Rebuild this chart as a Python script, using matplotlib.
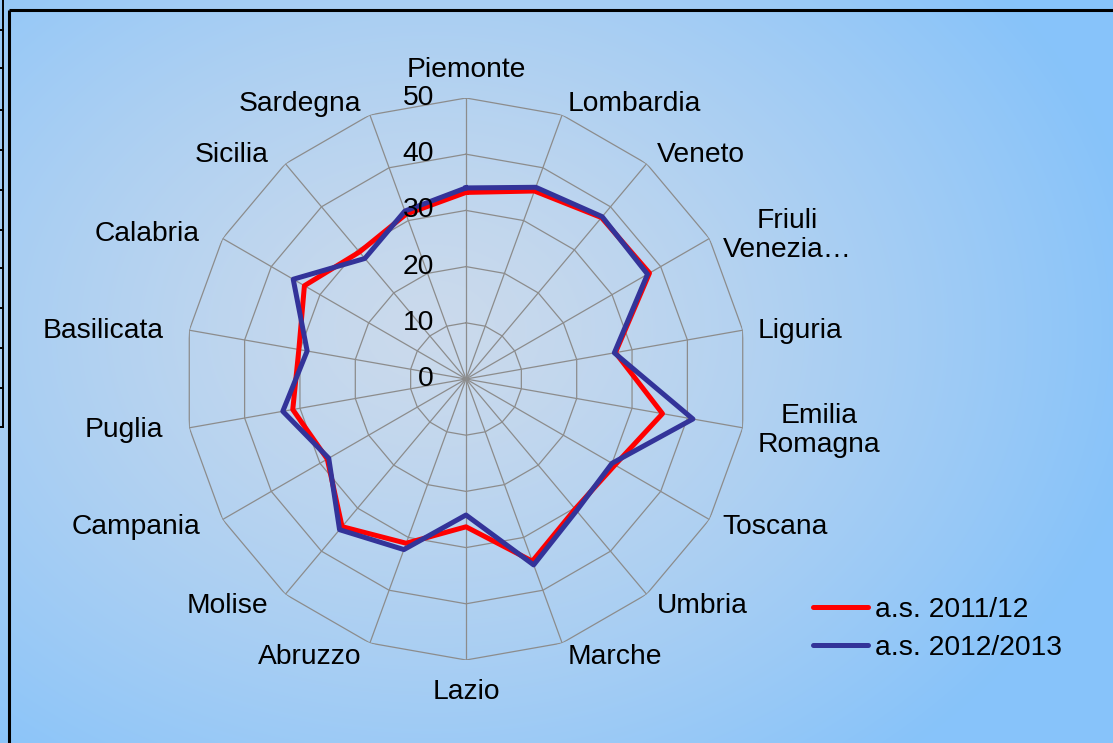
import matplotlib.pyplot as plt
import numpy as np
from matplotlib.lines import Line2D

# dati
regioni = ["Piemonte", "Lombardia", "Veneto", "Friuli\nVenezia…", "Liguria",
           "Emilia\nRomagna", "Toscana", "Umbria", "Marche", "Lazio",
           "Abruzzo", "Molise", "Campania", "Puglia", "Basilicata",
           "Calabria", "Sicilia", "Sardegna"]
as_2011 = [33.2, 35.6, 37.5, 37.7, 27.0, 35.5, 30.6, 30.2, 34.5, 26.3,
           31.1, 34.3, 28.5, 31.3, 30.2, 33.2, 29.5, 31.2]
as_2012 = [34.0, 36.3, 37.7, 37.3, 26.8, 41.0, 30.0, 30.6, 35.2, 24.2,
           32.3, 35.0, 28.2, 33.1, 28.7, 35.5, 28.0, 31.8]
livelli = [0, 10, 20, 30, 40, 50]
serie = ["a.s. 2011/12", "a.s. 2012/2013"]

W, H = 1113, 743
plt.rcParams['font.family'] = ['Liberation Sans', 'DejaVu Sans']
fs = 20.3

fig = plt.figure(figsize=(W / 100, H / 100), dpi=100)

# sfondo sfumato
bg = fig.add_axes([0, 0, 1, 1], zorder=-10)
yy, xx = np.mgrid[0:H, 0:W]
t = np.sqrt(((xx - 430) / 720.) ** 2 + ((yy - 330) / 560.) ** 2)
t = np.clip(t, 0, 1) ** 1.3
c0 = np.array([203, 218, 236]) / 255.
c1 = np.array([135, 195, 250]) / 255.
img = c0[None, None, :] * (1 - t[..., None]) + c1[None, None, :] * t[..., None]
bg.imshow(img, extent=[0, W, H, 0], aspect='auto')
bg.set_xlim(0, W)
bg.set_ylim(H, 0)
bg.axis('off')

# cornice
bg.plot([8.5, 8.5], [9.5, H], color='black', lw=2.2, solid_capstyle='butt')
bg.plot([8.5, W], [9.5, 9.5], color='black', lw=2.2, solid_capstyle='butt')
bg.plot([3, 3], [0, 427], color='black', lw=1.4)
for yl in [30, 68, 110, 150, 190, 230, 268, 308, 348, 388, 427]:
    bg.plot([0, 3], [yl, yl], color='black', lw=1.4)

# radar
cx, cy, R = 466, 379, 281
ax = fig.add_axes([(cx - R) / W, (H - cy - R) / H, 2 * R / W, 2 * R / H],
                  projection='polar')
ax.set_theta_zero_location('N')
ax.set_theta_direction(-1)
ax.set_ylim(0, 50)
ax.patch.set_alpha(0)
ax.axis('off')

n = len(regioni)
ang = np.arange(n) * 2 * np.pi / n
ang_c = np.append(ang, ang[0])

for lv in livelli[1:]:
    ax.plot(ang_c, [lv] * (n + 1), color='#8c8c8c', lw=0.9, zorder=1)
for a in ang:
    ax.plot([a, a], [0, 50], color='#8c8c8c', lw=0.9, zorder=1)

ax.plot(ang_c, as_2011 + as_2011[:1], color='#ff0000', lw=3.6, zorder=3,
        label=serie[0])
ax.plot(ang_c, as_2012 + as_2012[:1], color='#333399', lw=3.6, zorder=4,
        label=serie[1])

for lv in livelli:
    ax.annotate(str(lv), xy=(0, lv), xytext=(-32, 0), textcoords='offset pixels',
                ha='right', va='center', fontsize=fs, zorder=5,
                annotation_clip=False)

r_lab = 52.7
for a, nome in zip(ang, regioni):
    s = np.sin(a)
    c = np.cos(a)
    dx, dy = 0, 0
    if s > 0.1:
        ha = 'left'
    elif s < -0.1:
        ha = 'right'
        dx = 11 * s
    else:
        ha = 'center'
    if abs(s) <= 0.1:
        if c > 0:
            va = 'bottom'
        else:
            va = 'top'
            dy = -4
    else:
        va = 'center_baseline' if c > 0 else 'center'
    ax.annotate(nome, xy=(a, r_lab), xytext=(dx, dy), textcoords='offset pixels',
                ha=ha, va=va, fontsize=fs, multialignment='center',
                linespacing=1.15, annotation_clip=False)

h = [Line2D([0], [0], color='#ff0000', lw=3.6, solid_capstyle='round'),
     Line2D([0], [0], color='#333399', lw=3.6, solid_capstyle='round')]
fig.legend(h, serie, loc='upper left', bbox_to_anchor=(813 / W, 1 - 597 / H),
           frameon=False, fontsize=fs, handlelength=1.95, handletextpad=0.25,
           borderpad=0, borderaxespad=0, labelspacing=0.42)

fig.savefig('out.png', dpi=100)
